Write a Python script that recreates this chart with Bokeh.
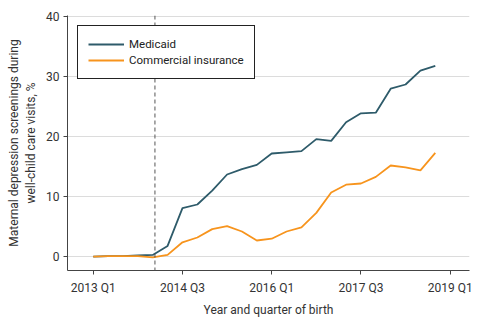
from bokeh.plotting import figure
from bokeh.models import Span, Legend, LegendItem, FixedTicker, ColumnDataSource
from bokeh.embed import file_html
from bokeh.resources import INLINE

quarters = ["2013 Q1", "2013 Q2", "2013 Q3", "2013 Q4", "2014 Q1", "2014 Q2", "2014 Q3", "2014 Q4",
            "2015 Q1", "2015 Q2", "2015 Q3", "2015 Q4", "2016 Q1", "2016 Q2", "2016 Q3", "2016 Q4",
            "2017 Q1", "2017 Q2", "2017 Q3", "2017 Q4", "2018 Q1", "2018 Q2", "2018 Q3", "2018 Q4"]
medicaid = [0.0, 0.1, 0.1, 0.2, 0.3, 1.8, 8.1, 8.7, 11.0, 13.7, 14.6, 15.3, 17.2, 17.4, 17.6, 19.6,
            19.3, 22.4, 23.9, 24.0, 28.0, 28.7, 31.0, 31.8]
commercial = [0.0, 0.1, 0.1, 0.1, -0.1, 0.3, 2.4, 3.2, 4.6, 5.1, 4.2, 2.7, 3.0, 4.2, 4.9, 7.3,
              10.7, 12.0, 12.2, 13.3, 15.2, 14.9, 14.4, 17.3]
tick_labels = {0: "2013 Q1", 6: "2014 Q3", 12: "2016 Q1", 18: "2017 Q3", 24: "2019 Q1"}
y_ticks = [0, 10, 20, 30, 40]
policy_q = 4.15

FONT = "Roboto"
TXT = "#333333"

x = list(range(len(quarters)))
src = ColumnDataSource(dict(x=x, med=medicaid, com=commercial, q=quarters))

p = figure(width=485, height=322, output_backend="svg", toolbar_location=None,
           x_range=(-1.73, 25.3), y_range=(-2.3, 40.2),
           min_border_left=67, min_border_right=16, min_border_top=15, min_border_bottom=52)
p.outline_line_color = None
p.background_fill_color = "white"

p.xgrid.grid_line_color = None
p.ygrid.grid_line_color = "#dcdcdc"
p.ygrid.grid_line_width = 1
p.ygrid.ticker = FixedTicker(ticks=y_ticks)

p.xaxis.ticker = FixedTicker(ticks=list(tick_labels.keys()))
p.xaxis.major_label_overrides = tick_labels
p.yaxis.ticker = FixedTicker(ticks=y_ticks)

for ax in (p.xaxis[0], p.yaxis[0]):
    ax.axis_line_color = "#444444"
    ax.major_tick_line_color = "#444444"
    ax.minor_tick_line_color = None
    ax.major_tick_out = 4
    ax.major_tick_in = 0
    ax.major_label_text_font = FONT
    ax.major_label_text_font_size = "12px"
    ax.major_label_text_color = TXT
    ax.axis_label_text_font = FONT
    ax.axis_label_text_font_size = "12px"
    ax.axis_label_text_color = TXT
    ax.axis_label_text_font_style = "normal"

p.xaxis.axis_label = "Year and quarter of birth"
p.yaxis.axis_label = "Maternal depression screenings during\nwell-child care visits, %"
p.xaxis.major_label_standoff = 6
p.yaxis.major_label_standoff = 4

p.add_layout(Span(location=policy_q, dimension="height", line_color="#555555",
                  line_dash="4 3", line_width=1))

r1 = p.line("x", "med", source=src, line_color="#2e5b6a", line_width=1.8)
r2 = p.line("x", "com", source=src, line_color="#f7941d", line_width=1.8)

legend = Legend(items=[LegendItem(label="Medicaid", renderers=[r1]),
                       LegendItem(label="Commercial insurance", renderers=[r2])],
                location="top_left")
legend.border_line_color = "#222222"
legend.border_line_alpha = 1.0
legend.border_line_width = 1
legend.background_fill_color = "white"
legend.background_fill_alpha = 1
legend.label_text_font = FONT
legend.label_text_font_size = "11.5px"
legend.label_text_color = "#222222"
legend.glyph_width = 36
legend.glyph_height = 16
legend.label_height = 16
legend.label_standoff = 5
legend.spacing = 0
legend.padding = 10
legend.margin = 10
p.add_layout(legend)

open("out.html", "w").write(file_html(p, INLINE))
